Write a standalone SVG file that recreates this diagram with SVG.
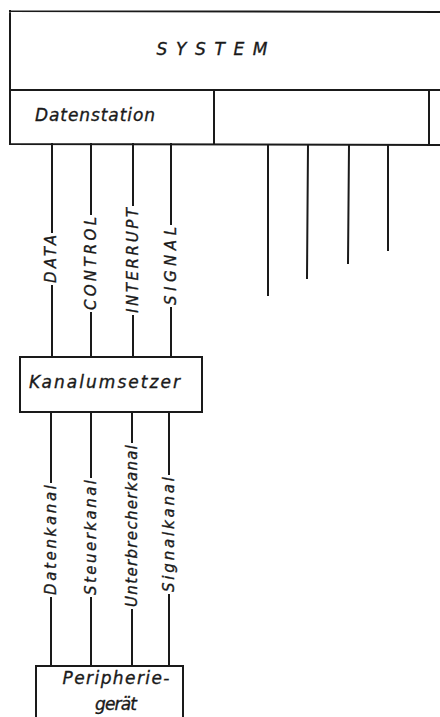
<svg xmlns="http://www.w3.org/2000/svg" width="440" height="717" viewBox="0 0 440 717">
<style>
.ln{stroke:#1a1a1a;stroke-width:2;fill:none;stroke-linecap:square}
.bx{stroke:#1a1a1a;stroke-width:2;fill:#fff}
text{font-family:"DejaVu Sans","Liberation Sans",sans-serif;font-style:italic;fill:#1a1a1a;stroke:#1a1a1a;stroke-width:0.35}
.lbl{font-size:15px}
.big{font-size:17px}
</style>
<rect width="440" height="717" fill="#fff"/>
<g id="system">
<path class="ln" d="M10,11 L442,12 M10,11 L10,144 M10,90 L442,90 M10,144 L442,145 M214,90 L214,144 M429,90 L429,145"/>
<text class="big" x="212" y="55" text-anchor="middle" textLength="111" lengthAdjust="spacing">SYSTEM</text>
</g>
<g id="datenstation">
<text class="big" x="35" y="121" textLength="120" lengthAdjust="spacing">Datenstation</text>
</g>
<g id="kanalumsetzer">
<rect class="bx" x="20" y="357" width="182" height="55"/>
<text class="big" x="29" y="388" textLength="151" lengthAdjust="spacing">Kanalumsetzer</text>
</g>
<g id="peripheriegeraet">
<path class="bx" d="M36,720 L36,666 L183,666 L183,720"/>
<text class="big" x="116" y="684" text-anchor="middle" textLength="107" lengthAdjust="spacing">Peripherie-</text>
<text class="big" x="116" y="710" text-anchor="middle" textLength="42" lengthAdjust="spacing">gerät</text>
</g>
<g id="connectors">
<path class="ln" d="M52,144 L52,232 M52,286 L52,357 M91,144 L91,214 M91,313 L91,357 M133,144 L133,205 M133,316 L133,357 M171,144 L171,224 M171,308 L171,357"/>
<path class="ln" d="M51,412 L51,482 M51,598 L51,666 M91,412 L91,477 M91,598 L91,666 M132,412 L132,442 M132,610 L132,666 M169,412 L169,474 M169,595 L169,666"/>
<path class="ln" d="M268,145 L268,295 M308,145 L307,278 M349,145 L348,263 M388,145 L388,250"/>
</g>
<g id="labels" class="lbl">
<text transform="translate(56,259) rotate(-90)" text-anchor="middle" textLength="48" lengthAdjust="spacing">DATA</text>
<text transform="translate(96,263.5) rotate(-90)" text-anchor="middle" textLength="93" lengthAdjust="spacing">CONTROL</text>
<text transform="translate(138,260.5) rotate(-90)" text-anchor="middle" textLength="105" lengthAdjust="spacing">INTERRUPT</text>
<text transform="translate(176,266) rotate(-90)" text-anchor="middle" textLength="78" lengthAdjust="spacing">SIGNAL</text>
<text transform="translate(56,540) rotate(-90)" text-anchor="middle" textLength="110" lengthAdjust="spacing">Datenkanal</text>
<text transform="translate(96,537.5) rotate(-90)" text-anchor="middle" textLength="115" lengthAdjust="spacing">Steuerkanal</text>
<text transform="translate(137,526) rotate(-90)" text-anchor="middle" textLength="162" lengthAdjust="spacing">Unterbrecherkanal</text>
<text transform="translate(174,534.5) rotate(-90)" text-anchor="middle" textLength="115" lengthAdjust="spacing">Signalkanal</text>
</g>
</svg>
